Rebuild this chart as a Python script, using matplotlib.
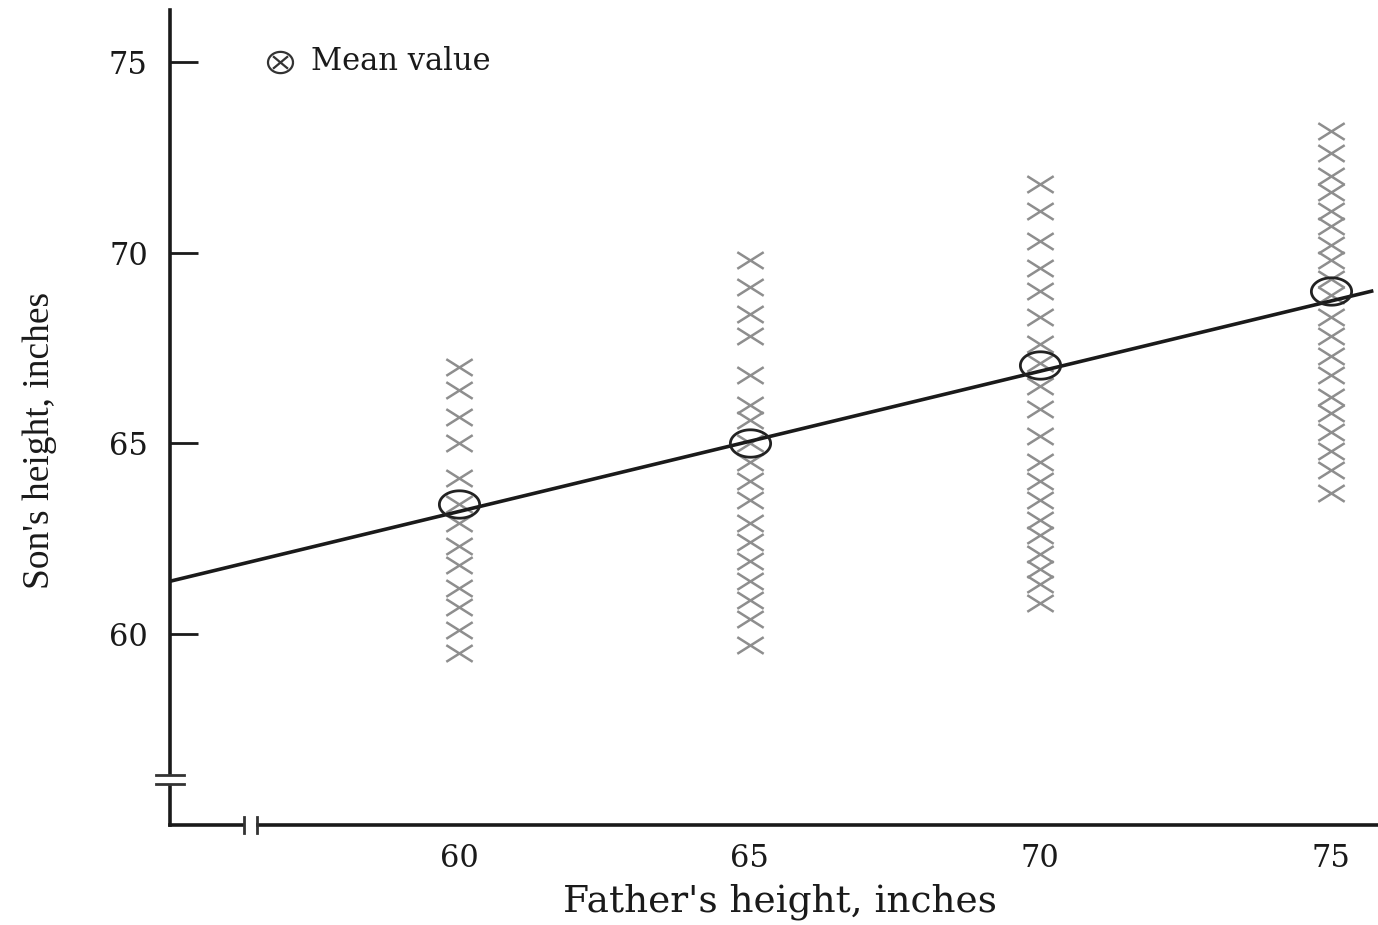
import matplotlib
matplotlib.use("Agg")
import matplotlib.pyplot as plt
from matplotlib.path import Path
from matplotlib.patches import Rectangle
import numpy as np

# Father's height groups and the sons' heights observed in each
father_heights = [60, 65, 70, 75]
sons_60 = [67.0, 66.4, 65.7, 65.0, 64.1, 63.4, 62.9, 62.3, 61.8, 61.2, 60.7, 60.1, 59.5]
sons_65 = [69.8, 69.1, 68.4, 67.8, 66.8, 66.0, 65.6, 65.0, 64.5, 64.0, 63.5, 62.9,
           62.4, 61.9, 61.4, 60.9, 60.4, 59.7]
sons_70 = [71.8, 71.1, 70.3, 69.6, 69.0, 68.3, 67.6, 67.1, 66.5, 65.9, 65.2, 64.5,
           64.0, 63.5, 63.0, 62.6, 62.1, 61.7, 61.3, 60.8]
sons_75 = [73.2, 72.6, 72.0, 71.6, 71.1, 70.7, 70.2, 69.8, 69.3, 68.9, 68.3, 67.8,
           67.3, 66.8, 66.2, 65.8, 65.3, 64.8, 64.3, 63.7]
sons_groups = [sons_60, sons_65, sons_70, sons_75]

# Conditional mean of son's height for each father's height
mean_heights = [63.4, 65.0, 67.05, 69.0]

# Population regression line
line_intercept = 41.13
line_slope = 0.368
line_x = [55.0, 75.7]

# Axis settings
x_ticks = [60, 65, 70, 75]
y_ticks = [60, 65, 70, 75]

# Marker shapes (wider than tall)
cross = Path([(-1, -0.63), (1, 0.63), (-1, 0.63), (1, -0.63)],
             [Path.MOVETO, Path.LINETO, Path.MOVETO, Path.LINETO])
theta = np.linspace(0, 2 * np.pi, 80)
ellipse = Path(np.column_stack([np.cos(theta), 0.68 * np.sin(theta)]), closed=True)
circ_x = Path(np.vstack([np.column_stack([np.cos(theta), 0.85 * np.sin(theta)]),
                         [[-0.6, -0.5], [0.6, 0.5], [-0.6, 0.5], [0.6, -0.5]]]),
              [Path.MOVETO] + [Path.LINETO] * 79 +
              [Path.MOVETO, Path.LINETO, Path.MOVETO, Path.LINETO])

serif = "DejaVu Serif"
ink = "#1a1a1a"

fig = plt.figure(figsize=(13.78, 9.25), dpi=100)
ax = fig.add_axes([170 / 1378, 100 / 925, 1208 / 1378, 815 / 925])
ax.set_xlim(55.03, 75.81)
ax.set_ylim(54.99, 76.36)

# Scatter of sons' heights
for fx, sons in zip(father_heights, sons_groups):
    ax.plot([fx] * len(sons), sons, linestyle="none", marker=cross,
            markersize=19, markeredgewidth=1.8, color="#8e8e8e", zorder=2)

# Regression line
lx = np.array(line_x)
ax.plot(lx, line_intercept + line_slope * lx, color=ink, lw=2.6, zorder=3)

# Conditional means
ax.plot(father_heights, mean_heights, linestyle="none", marker=ellipse,
        markersize=29, markeredgewidth=2.0, markerfacecolor="none",
        markeredgecolor="#222222", zorder=4)

# Legend entry
ax.plot([56.92], [75.0], linestyle="none", marker=circ_x, markersize=18,
        markeredgewidth=1.6, markerfacecolor="none", markeredgecolor="#333333")
ax.text(57.45, 75.0, "Mean value", family=serif, fontsize=22, va="center",
        ha="left", color=ink)

# Spines and ticks
for side in ("top", "right"):
    ax.spines[side].set_visible(False)
for side in ("left", "bottom"):
    ax.spines[side].set_linewidth(2.6)
    ax.spines[side].set_color(ink)

ax.set_xticks(x_ticks)
ax.set_yticks(y_ticks)
ax.tick_params(axis="y", direction="in", length=20, width=2, pad=16,
               labelsize=22, color=ink)
ax.tick_params(axis="x", direction="in", length=0, width=2, pad=13,
               labelsize=22, color=ink)
for lbl in ax.get_xticklabels() + ax.get_yticklabels():
    lbl.set_family(serif)
    lbl.set_color(ink)

# Axis break marks
tr_y = ax.get_yaxis_transform()
ax.add_patch(Rectangle((-0.01, 56.07), 0.02, 0.22, transform=tr_y,
                       color="white", clip_on=False, zorder=5))
for yb in (56.06, 56.30):
    ax.plot([-0.012, 0.012], [yb, yb], transform=tr_y, color="#333333",
            lw=2, clip_on=False, zorder=6)
tr_x = ax.get_xaxis_transform()
ax.add_patch(Rectangle((56.32, -0.01), 0.18, 0.02, transform=tr_x,
                       color="white", clip_on=False, zorder=5))
for xb in (56.31, 56.52):
    ax.plot([xb, xb], [-0.01, 0.01], transform=tr_x, color="#333333",
            lw=2, clip_on=False, zorder=6)

# Axis titles
fig.text(780 / 1378, 1 - 902 / 925, "Father's height, inches", family=serif,
         fontsize=27, ha="center", va="center", color=ink)
fig.text(40 / 1378, 1 - 440 / 925, "Son's height, inches", family="Liberation Serif",
         fontsize=27, rotation=90, ha="center", va="center", color=ink)

fig.savefig("out.png", dpi=100)
